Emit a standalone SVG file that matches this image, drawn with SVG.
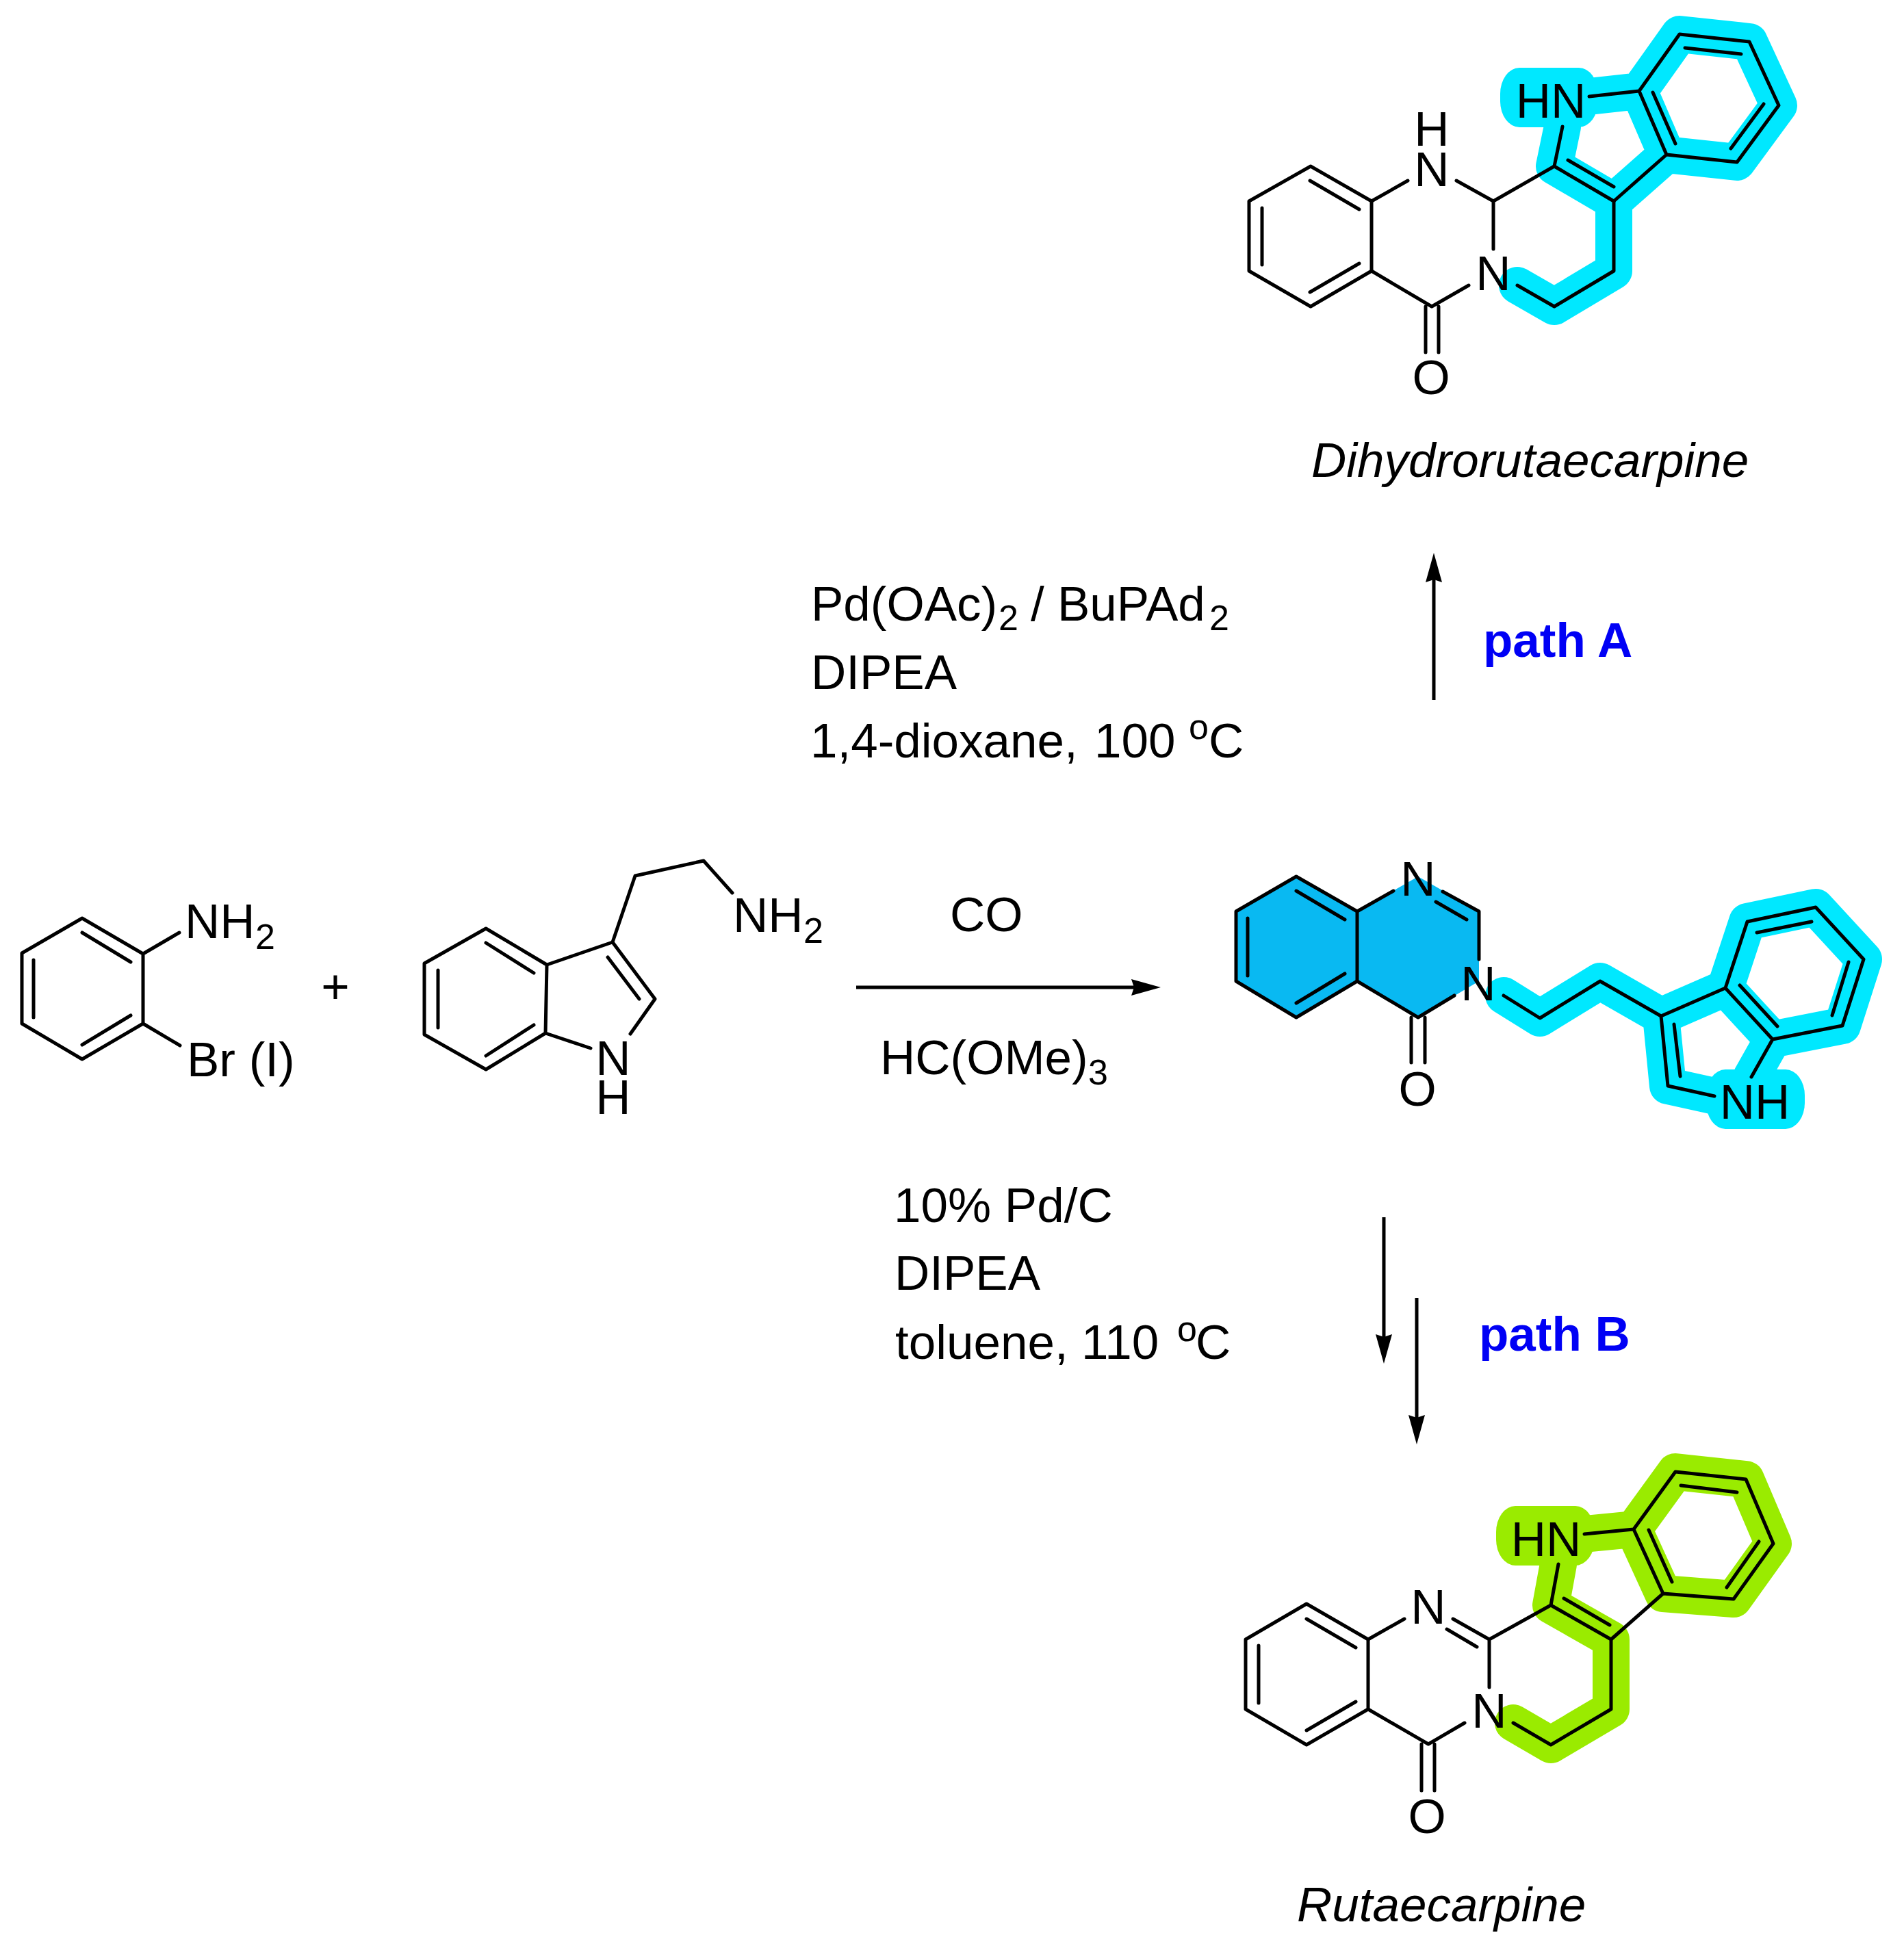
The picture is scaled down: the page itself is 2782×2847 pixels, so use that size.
<svg xmlns="http://www.w3.org/2000/svg" width="2782" height="2847" viewBox="0 0 2782 2847">
<style>
text{font-family:"Liberation Sans",Arial,sans-serif;font-size:71px;fill:#000}
.c{text-anchor:middle}
.s{font-size:52px}
.i{font-style:italic}
.p{font-weight:bold;fill:#0000f5}
.b{fill:none;stroke:#000;stroke-width:5;stroke-linecap:round;stroke-linejoin:round}
.a{fill:none;stroke:#000;stroke-width:5}
.hc{fill:none;stroke:#00e8ff;stroke-width:54;stroke-linecap:round;stroke-linejoin:round}
.hg{fill:none;stroke:#9aeb00;stroke-width:54;stroke-linecap:round;stroke-linejoin:round}
</style>
<defs>
<marker id="head" markerUnits="userSpaceOnUse" markerWidth="43" markerHeight="24" viewBox="0 0 43 24" refX="4" refY="12" orient="auto">
<path d="M0,0 L43,12 L0,24 L4,12 Z" fill="#000"/>
</marker>
</defs>
<rect width="2782" height="2847" fill="#fff"/>

<g id="dihydrorutaecarpine">
<path class="hc" d="M2217,417 L2271,448 L2358,396 L2358,294 L2271,243 L2283,185 M2358,294 L2435,226 L2395,133 L2454,50 L2556,61 L2599,154 L2538,237 L2435,226 M2395,133 L2322,141"/>
<rect x="2192" y="99" width="143" height="87" rx="28" ry="38" fill="#00e8ff"/>
<path class="b" d="M1825,294 L1915,243 L2004,294 L2004,396 L1915,448 L1825,396 Z M1914,264 L1986,306 M1844,304 L1844,387 M1914,427 L1986,385"/>
<path class="b" d="M2004,294 L2057,264 M2128,264 L2182,294 L2182,364 M2182,294 L2271,243 L2358,294 L2358,396 L2271,448 L2217,417 M2146,417 L2092,448 L2004,396 M2291,234 L2358,273 M2083,448 L2083,515 M2102,448 L2102,515"/>
<path class="b" d="M2271,243 L2283,185 M2322,141 L2395,133 L2435,226 L2358,294 M2395,133 L2454,50 L2556,61 L2599,154 L2538,237 L2435,226 M2462,70 L2544,79 M2577,152 L2529,217 M2415,135 L2448,210"/>
<text class="c" x="2092" y="213">H</text>
<text class="c" x="2092" y="272">N</text>
<text class="c" x="2266" y="172">HN</text>
<text class="c" x="2182" y="424">N</text>
<text class="c" x="2091" y="576">O</text>
<text class="i" x="1916" y="697">Dihydrorutaecarpine</text>
</g>

<g id="quinazolinone">
<path class="hc" d="M2197,1455 L2250,1488 L2338,1434 L2427,1485 L2521,1444 L2590,1519 L2559,1574 M2521,1444 L2553,1347 L2653,1326 L2723,1402 L2692,1499 L2590,1519 M2427,1485 L2437,1587 L2505,1602"/>
<rect x="2493" y="1563" width="144" height="87" rx="28" ry="38" fill="#00e8ff"/>
<polygon points="1806,1332 1894,1281 1983,1332 2072,1281 2161,1332 2161,1434 2072,1487 1983,1434 1894,1487 1806,1434" fill="#09b9f2"/>
<path class="b" d="M1806,1332 L1894,1281 L1983,1332 L1983,1434 L1894,1487 L1806,1434 Z M1894,1302 L1965,1344 M1823,1342 L1823,1426 M1894,1466 L1965,1423"/>
<path class="b" d="M1983,1332 L2036,1302 M2108,1303 L2161,1332 L2161,1402 M2098,1318 L2143,1344 M2125,1455 L2072,1487 L1983,1434 M2062,1487 L2062,1553 M2082,1487 L2082,1553"/>
<path class="b" d="M2197,1455 L2250,1488 L2338,1434 L2427,1485 L2521,1444 L2590,1519 L2559,1574 M2521,1444 L2553,1347 L2653,1326 L2723,1402 L2692,1499 L2590,1519 M2427,1485 L2437,1587 L2505,1602 M2446,1497 L2455,1573 M2542,1440 L2597,1500 M2567,1363 L2647,1347 M2701,1406 L2677,1484"/>
<text class="c" x="2072" y="1309">N</text>
<text class="c" x="2160" y="1462">N</text>
<text class="c" x="2071" y="1616">O</text>
<text class="c" x="2564" y="1635">NH</text>
</g>

<g id="rutaecarpine">
<path class="hg" d="M2211,2518 L2266,2550 L2354,2498 L2354,2396 L2266,2346 L2277,2286 M2315,2242 L2387,2235 L2430,2329 L2533,2337 L2591,2256 L2551,2162 L2448,2151 L2387,2235"/>
<rect x="2186" y="2201" width="144" height="87" rx="28" ry="38" fill="#9aeb00"/>
<path class="b" d="M1820,2396 L1909,2344 L1999,2396 L1999,2498 L1909,2550 L1820,2498 Z M1909,2366 L1981,2408 M1839,2405 L1839,2489 M1909,2529 L1981,2487"/>
<path class="b" d="M1999,2396 L2052,2366 M2123,2366 L2176,2396 L2176,2466 M2114,2381 L2158,2407 M2176,2396 L2266,2346 L2354,2396 L2354,2498 L2266,2550 L2211,2518 M2140,2518 L2087,2549 L1999,2498 M2285,2336 L2352,2375 M2077,2549 L2077,2617 M2096,2549 L2096,2617"/>
<path class="b" d="M2266,2346 L2277,2286 M2315,2242 L2387,2235 L2430,2329 L2354,2396 M2387,2235 L2448,2151 L2551,2162 L2591,2256 L2533,2337 L2430,2329 M2456,2171 L2538,2181 M2570,2253 L2523,2320 M2409,2236 L2443,2312"/>
<text class="c" x="2087" y="2373">N</text>
<text class="c" x="2259" y="2274">HN</text>
<text class="c" x="2176" y="2525">N</text>
<text class="c" x="2085" y="2679">O</text>
<text class="i" x="1895" y="2808">Rutaecarpine</text>
</g>

<g id="bromoaniline">
<path class="b" d="M120,1342 L209,1394 L209,1496 L120,1548 L32,1496 L32,1393 Z M120,1363 L191,1406 M49,1403 L49,1487 M120,1527 L191,1484 M209,1394 L262,1363 M209,1496 L263,1528"/>
<text x="270" y="1371">NH<tspan class="s" x="373" y="1387">2</tspan></text>
<text x="273" y="1573">Br (I)</text>
</g>

<g id="plus">
<text class="c" x="490" y="1466">+</text>
</g>

<g id="tryptamine">
<path class="b" d="M710,1357 L799,1410 L797,1510 L710,1563 L620,1512 L620,1408 Z M710,1378 L780,1422 M640,1418 L640,1502 M710,1543 L780,1498"/>
<path class="b" d="M799,1410 L895,1377 L957,1460 L921,1511 M797,1510 L863,1532 M888,1399 L934,1460 M895,1377 L928,1280 L1028,1258 L1070,1305"/>
<text class="c" x="896" y="1571">N</text>
<text class="c" x="896" y="1628">H</text>
<text x="1071" y="1362">NH<tspan class="s" x="1174" y="1378">2</tspan></text>
</g>

<g id="conditions">
<text x="1185" y="907">Pd(OAc)<tspan class="s" x="1459" y="921">2</tspan><tspan x="1506" y="907">/</tspan><tspan x="1545" y="907">BuPAd</tspan><tspan class="s" x="1767" y="921">2</tspan></text>
<text x="1185" y="1007">DIPEA</text>
<text x="1184" y="1107">1,4-dioxane,<tspan x="1599" y="1107">100</tspan><tspan class="s" x="1737" y="1080">o</tspan><tspan x="1766" y="1107">C</tspan></text>
<text x="1388" y="1361">CO</text>
<text x="1286" y="1570">HC(OMe)<tspan class="s" x="1590" y="1585">3</tspan></text>
<text x="1306" y="1786">10% Pd/C</text>
<text x="1307" y="1885">DIPEA</text>
<text x="1308" y="1986">toluene,<tspan x="1580" y="1986">110</tspan><tspan class="s" x="1720" y="1960">o</tspan><tspan x="1747" y="1986">C</tspan></text>
<text class="p" x="2167" y="960">path A</text>
<text class="p" x="2161" y="1974">path B</text>
</g>

<g id="connectors">
<line class="a" x1="1251" y1="1443" x2="1657" y2="1443" marker-end="url(#head)"/>
<line class="a" x1="2095" y1="1023" x2="2095" y2="847" marker-end="url(#head)"/>
<line class="a" x1="2022" y1="1779" x2="2022" y2="1954" marker-end="url(#head)"/>
<line class="a" x1="2070" y1="1897" x2="2070" y2="2072" marker-end="url(#head)"/>
</g>
</svg>
